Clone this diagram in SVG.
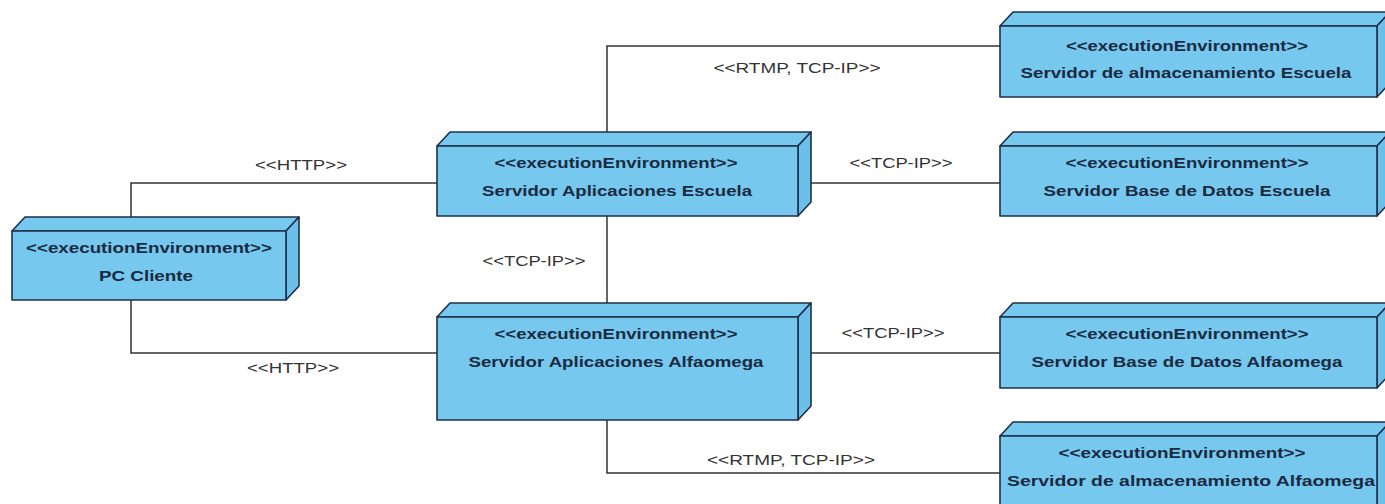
<svg xmlns="http://www.w3.org/2000/svg" width="1385" height="504" viewBox="0 0 1385 504">
<style>
.face{fill:#76c8ef;stroke:#1e3048;stroke-width:1.6;stroke-linejoin:round}
.side{fill:#6cbfe8;stroke:#1e3048;stroke-width:1.6;stroke-linejoin:round}
.nt{font-family:"Liberation Sans",Arial,sans-serif;font-size:15px;font-weight:bold;fill:#1a2a40;text-anchor:middle}
.lbl{font-family:"Liberation Sans",Arial,sans-serif;font-size:14px;fill:#333;text-anchor:middle}
.conn{fill:none;stroke:#333;stroke-width:1.5}
</style>
<rect width="1385" height="504" fill="#fff"/>
<g id="connectors">
<polyline class="conn" points="131,231 131,183 437,183"/>
<polyline class="conn" points="131,300 131,353 437,353"/>
<line class="conn" x1="607" y1="216" x2="607" y2="317"/>
<polyline class="conn" points="607,146 607,46 1000,46"/>
<line class="conn" x1="798" y1="183" x2="1000" y2="183"/>
<line class="conn" x1="798" y1="353" x2="1000" y2="353"/>
<polyline class="conn" points="607,420 607,473 1000,473"/>
<text class="lbl" x="301" y="170" textLength="92" lengthAdjust="spacingAndGlyphs">&lt;&lt;HTTP&gt;&gt;</text>
<text class="lbl" x="293" y="373" textLength="92" lengthAdjust="spacingAndGlyphs">&lt;&lt;HTTP&gt;&gt;</text>
<text class="lbl" x="534" y="266" textLength="103" lengthAdjust="spacingAndGlyphs">&lt;&lt;TCP-IP&gt;&gt;</text>
<text class="lbl" x="797" y="73" textLength="167" lengthAdjust="spacingAndGlyphs">&lt;&lt;RTMP, TCP-IP&gt;&gt;</text>
<text class="lbl" x="901" y="168" textLength="103" lengthAdjust="spacingAndGlyphs">&lt;&lt;TCP-IP&gt;&gt;</text>
<text class="lbl" x="893" y="338" textLength="103" lengthAdjust="spacingAndGlyphs">&lt;&lt;TCP-IP&gt;&gt;</text>
<text class="lbl" x="791" y="465" textLength="168" lengthAdjust="spacingAndGlyphs">&lt;&lt;RTMP, TCP-IP&gt;&gt;</text>
</g>
<g id="pc-cliente">
<polygon class="face" points="12,231 25,217 299,217 286,231"/>
<polygon class="side" points="286,231 299,217 299,286 286,300"/>
<rect class="face" x="12" y="231" width="274" height="69"/>
<text class="nt" x="149" y="253" textLength="246" lengthAdjust="spacingAndGlyphs">&lt;&lt;executionEnvironment&gt;&gt;</text>
<text class="nt" x="146" y="281" textLength="94" lengthAdjust="spacingAndGlyphs">PC Cliente</text>
</g>
<g id="app-escuela">
<polygon class="face" points="437,146 450,132 811,132 798,146"/>
<polygon class="side" points="798,146 811,132 811,202 798,216"/>
<rect class="face" x="437" y="146" width="361" height="70"/>
<text class="nt" x="616" y="168" textLength="243" lengthAdjust="spacingAndGlyphs">&lt;&lt;executionEnvironment&gt;&gt;</text>
<text class="nt" x="617" y="196" textLength="270" lengthAdjust="spacingAndGlyphs">Servidor Aplicaciones Escuela</text>
</g>
<g id="app-alfaomega">
<polygon class="face" points="437,317 450,303 811,303 798,317"/>
<polygon class="side" points="798,317 811,303 811,406 798,420"/>
<rect class="face" x="437" y="317" width="361" height="103"/>
<text class="nt" x="616" y="339" textLength="243" lengthAdjust="spacingAndGlyphs">&lt;&lt;executionEnvironment&gt;&gt;</text>
<text class="nt" x="616" y="367" textLength="295" lengthAdjust="spacingAndGlyphs">Servidor Aplicaciones Alfaomega</text>
</g>
<g id="storage-escuela">
<polygon class="face" points="1000,26 1013,12 1390,12 1377,26"/>
<polygon class="side" points="1377,26 1390,12 1390,83 1377,97"/>
<rect class="face" x="1000" y="26" width="377" height="71"/>
<text class="nt" x="1187" y="51" textLength="242" lengthAdjust="spacingAndGlyphs">&lt;&lt;executionEnvironment&gt;&gt;</text>
<text class="nt" x="1186" y="78" textLength="331" lengthAdjust="spacingAndGlyphs">Servidor de almacenamiento Escuela</text>
</g>
<g id="db-escuela">
<polygon class="face" points="1000,146 1013,132 1390,132 1377,146"/>
<polygon class="side" points="1377,146 1390,132 1390,202 1377,216"/>
<rect class="face" x="1000" y="146" width="377" height="70"/>
<text class="nt" x="1187" y="168" textLength="243" lengthAdjust="spacingAndGlyphs">&lt;&lt;executionEnvironment&gt;&gt;</text>
<text class="nt" x="1187" y="196" textLength="287" lengthAdjust="spacingAndGlyphs">Servidor Base de Datos Escuela</text>
</g>
<g id="db-alfaomega">
<polygon class="face" points="1000,317 1013,303 1390,303 1377,317"/>
<polygon class="side" points="1377,317 1390,303 1390,374 1377,388"/>
<rect class="face" x="1000" y="317" width="377" height="71"/>
<text class="nt" x="1187" y="339" textLength="243" lengthAdjust="spacingAndGlyphs">&lt;&lt;executionEnvironment&gt;&gt;</text>
<text class="nt" x="1187" y="367" textLength="311" lengthAdjust="spacingAndGlyphs">Servidor Base de Datos Alfaomega</text>
</g>
<g id="storage-alfaomega">
<polygon class="face" points="1000,436 1013,422 1390,422 1377,436"/>
<polygon class="side" points="1377,436 1390,422 1390,520 1377,520"/>
<rect class="face" x="1000" y="436" width="377" height="84"/>
<text class="nt" x="1182" y="458" textLength="247" lengthAdjust="spacingAndGlyphs">&lt;&lt;executionEnvironment&gt;&gt;</text>
<text class="nt" x="1191" y="486" textLength="368" lengthAdjust="spacingAndGlyphs">Servidor de almacenamiento Alfaomega</text>
</g>
</svg>
